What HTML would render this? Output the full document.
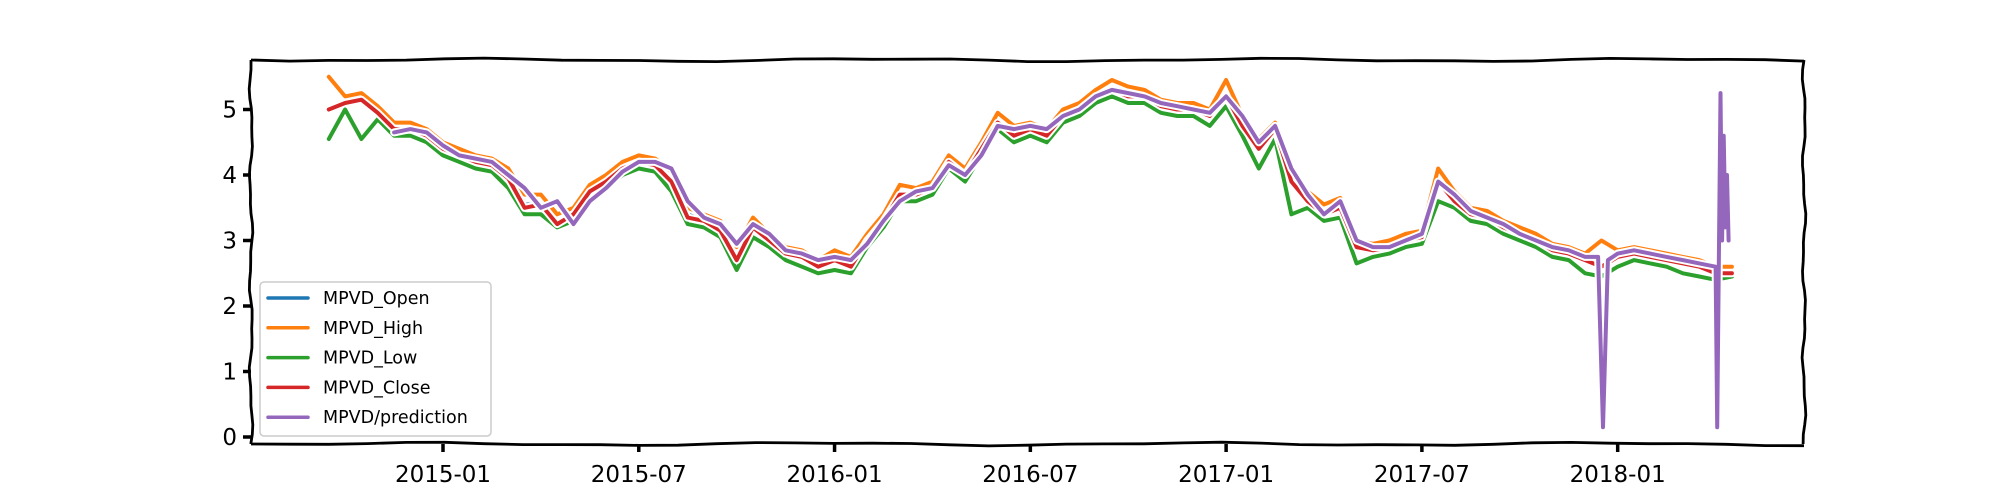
<!DOCTYPE html>
<html><head><meta charset="utf-8"><style>
html,body{margin:0;padding:0;background:#fff;}
svg{display:block;font-family:"DejaVu Sans","Liberation Sans",sans-serif;}
</style></head><body>
<svg id="chart" width="2000" height="500" viewBox="0 0 2000 500" xmlns="http://www.w3.org/2000/svg">
<g id="marks"></g>
<g id="axes"></g>
<g id="legend"></g>
</svg>
<script>
// ---- data ----
const months = [-3.5,-3,-2.5,-2,-1.5,-1,-0.5,0,0.5,1,1.5,2,2.5,3,3.5,4,4.5,5,5.5,6,6.5,7,7.5,8,8.5,9,9.5,10,10.5,11,11.5,12,12.5,13,13.5,14,14.5,15,15.5,16,16.5,17,17.5,18,18.5,19,19.5,20,20.5,21,21.5,22,22.5,23,23.5,24,24.5,25,25.5,26,26.5,27,27.5,28,28.5,29,29.5,30,30.5,31,31.5,32,32.5,33,33.5,34,34.5,35,35.5,36,36.5,37,37.5,38,38.5,39,39.5];
const closeVals = [5.0,5.1,5.15,4.95,4.7,4.7,4.6,4.4,4.3,4.2,4.15,3.95,3.5,3.55,3.25,3.4,3.75,3.9,4.1,4.2,4.15,3.9,3.35,3.3,3.15,2.7,3.2,3.0,2.8,2.75,2.6,2.7,2.6,3.0,3.3,3.7,3.7,3.8,4.2,4.0,4.4,4.8,4.6,4.7,4.6,4.9,5.0,5.2,5.3,5.2,5.2,5.05,5.0,5.0,4.9,5.2,4.75,4.4,4.7,3.9,3.6,3.4,3.5,2.9,2.85,2.9,3.0,3.05,3.9,3.6,3.4,3.35,3.2,3.1,3.0,2.85,2.8,2.7,2.6,2.75,2.8,2.75,2.7,2.65,2.6,2.5,2.5];
const openVals = [5.0,5.1,5.15,4.97,4.72,4.7,4.62,4.42,4.3,4.22,4.15,3.97,3.55,3.55,3.28,3.42,3.75,3.9,4.1,4.2,4.15,3.92,3.4,3.3,3.18,2.75,3.2,3.02,2.82,2.75,2.62,2.7,2.62,3.0,3.3,3.68,3.7,3.8,4.18,4.02,4.4,4.78,4.62,4.7,4.62,4.88,5.0,5.2,5.28,5.2,5.2,5.05,5.0,5.0,4.92,5.18,4.78,4.45,4.68,3.95,3.62,3.42,3.5,2.92,2.85,2.9,3.0,3.05,3.85,3.62,3.42,3.35,3.2,3.1,3.0,2.87,2.8,2.72,2.62,2.75,2.8,2.75,2.7,2.65,2.6,2.52,2.52];
const highVals = [5.5,5.2,5.25,5.05,4.8,4.8,4.7,4.5,4.4,4.3,4.25,4.1,3.7,3.7,3.4,3.5,3.85,4.0,4.2,4.3,4.25,4.05,3.5,3.4,3.3,2.9,3.35,3.1,2.9,2.85,2.7,2.85,2.75,3.1,3.4,3.85,3.8,3.9,4.3,4.1,4.5,4.95,4.75,4.8,4.7,5.0,5.1,5.3,5.45,5.35,5.3,5.15,5.1,5.1,5.0,5.45,4.9,4.55,4.8,4.1,3.75,3.55,3.65,3.0,2.95,3.0,3.1,3.15,4.1,3.75,3.5,3.45,3.3,3.2,3.1,2.95,2.9,2.8,3.0,2.85,2.9,2.85,2.8,2.75,2.7,2.6,2.6];
const lowVals = [4.55,5.0,4.55,4.85,4.6,4.6,4.5,4.3,4.2,4.1,4.05,3.8,3.4,3.4,3.2,3.3,3.65,3.8,4.0,4.1,4.05,3.75,3.25,3.2,3.05,2.55,3.05,2.9,2.7,2.6,2.5,2.55,2.5,2.9,3.2,3.6,3.6,3.7,4.1,3.9,4.3,4.7,4.5,4.6,4.5,4.8,4.9,5.1,5.2,5.1,5.1,4.95,4.9,4.9,4.75,5.05,4.6,4.1,4.55,3.4,3.5,3.3,3.35,2.65,2.75,2.8,2.9,2.95,3.6,3.5,3.3,3.25,3.1,3.0,2.9,2.75,2.7,2.5,2.45,2.6,2.7,2.65,2.6,2.5,2.45,2.4,2.45];
const predMonths = [-1.5,-1,-0.5,0,0.5,1,1.5,2,2.5,3,3.5,4,4.5,5,5.5,6,6.5,7,7.5,8,8.5,9,9.5,10,10.5,11,11.5,12,12.5,13,13.5,14,14.5,15,15.5,16,16.5,17,17.5,18,18.5,19,19.5,20,20.5,21,21.5,22,22.5,23,23.5,24,24.5,25,25.5,26,26.5,27,27.5,28,28.5,29,29.5,30,30.5,31,31.5,32,32.5,33,33.5,34,34.5,35,35.4,35.55,35.7,36,36.5,37,37.5,38,38.5,39.0,39.05,39.15,39.2,39.25,39.3,39.35,39.4];
const predVals = [4.65,4.7,4.65,4.45,4.3,4.25,4.2,4.0,3.8,3.5,3.6,3.25,3.6,3.8,4.05,4.2,4.2,4.1,3.6,3.35,3.25,2.95,3.25,3.1,2.85,2.8,2.7,2.75,2.7,2.95,3.3,3.6,3.75,3.8,4.15,4.0,4.3,4.75,4.7,4.75,4.7,4.9,5.0,5.2,5.3,5.25,5.2,5.1,5.05,5.0,4.95,5.2,4.9,4.5,4.75,4.1,3.7,3.4,3.6,3.0,2.9,2.9,3.0,3.1,3.9,3.7,3.45,3.35,3.25,3.1,3.0,2.9,2.85,2.75,2.75,0.15,2.7,2.8,2.85,2.8,2.75,2.7,2.65,2.6,0.15,5.25,3.0,4.6,3.2,4.0,3.0];
const yTicks = [0,1,2,3,4,5];
const xTickMonths = [0,6,12,18,24,30,36];
const xTickLabels = ["2015-01","2015-07","2016-01","2016-07","2017-01","2017-07","2018-01"];
const legendLabels = ["MPVD_Open","MPVD_High","MPVD_Low","MPVD_Close","MPVD/prediction"];
const colors = ["#1f77b4","#ff7f0e","#2ca02c","#d62728","#9467bd"];

// ---- scales ----
const X0=443, XPM=32.63, Y0=437, YPU=65.5;
const L=251, R=1804, T=60, B=444;
const xs = m => X0 + m*XPM;
const ys = v => Y0 - v*YPU;
const NS="http://www.w3.org/2000/svg";
function mk(tag, attrs, parent){const e=document.createElementNS(NS,tag);for(const k in attrs)e.setAttribute(k,attrs[k]);parent.appendChild(e);return e;}
function pathFrom(xa, ya){return xa.map((m,i)=>(i?'L':'M')+xs(m).toFixed(1)+','+ys(ya[i]).toFixed(1)).join(' ');}

const marks=document.getElementById('marks');
const series=[[months,openVals,'series-open'],[months,highVals,'series-high'],[months,lowVals,'series-low'],[months,closeVals,'series-close'],[predMonths,predVals,'series-prediction']];
series.forEach((s,i)=>{
  const d=pathFrom(s[0],s[1]);
  const halo=mk('path',{d:d,fill:'none',stroke:'#fff','stroke-width':8,'stroke-linejoin':'round','stroke-linecap':'round'},marks);
  
  
  const p=mk('path',{d:d,fill:'none',stroke:colors[i],'stroke-width':4,'stroke-linejoin':'round','stroke-linecap':'round'},marks);
  
  
});

// ---- axes (wobbly spines) ----
const axes=document.getElementById('axes');
function wob(x1,y1,x2,y2,seed){let d='M'+x1+','+y1;const n=40;for(let i=1;i<=n;i++){const t=i/n;const o=1.3*Math.sin(t*25+seed)+0.6*Math.sin(t*61+seed*2);const x=x1+(x2-x1)*t,y=y1+(y2-y1)*t;if(x1===x2)d+=' L'+(x+o).toFixed(1)+','+y.toFixed(1);else d+=' L'+x.toFixed(1)+','+(y+o).toFixed(1);}return d;}
[[L,T,R,T,1,'top-spine'],[L,B,R,B,2,'bottom-spine'],[L,T,L,B,3,'left-spine'],[R,T,R,B,4,'right-spine']].forEach(a=>{
  const p=mk('path',{d:wob(a[0],a[1],a[2],a[3],a[4]),fill:'none',stroke:'#000','stroke-width':2.8},axes);
  
  
});
yTicks.forEach(v=>{
  const tk=mk('line',{x1:L-8,x2:L,y1:ys(v),y2:ys(v),stroke:'#000','stroke-width':3.5},axes);
  
  
  const t=mk('text',{x:L-14,y:ys(v)+8,'text-anchor':'end','font-size':23,fill:'#000'},axes);
  t.textContent=v;
  
  
});
xTickMonths.forEach((m,i)=>{
  const tk=mk('line',{x1:xs(m),x2:xs(m),y1:B,y2:B+8,stroke:'#000','stroke-width':3.5},axes);
  
  
  const t=mk('text',{x:xs(m),y:B+38,'text-anchor':'middle','font-size':23,fill:'#000'},axes);
  t.textContent=xTickLabels[i];
  
  
});

// ---- legend ----
const lg=document.getElementById('legend');
const box=mk('rect',{x:260,y:282,width:231,height:154,rx:4,fill:'#fff','fill-opacity':0.85,stroke:'#ccc','stroke-width':1.5},lg);


legendLabels.forEach((lab,i)=>{
  const y=298+i*29.8;
  const ln=mk('line',{x1:268,x2:308,y1:y,y2:y,stroke:colors[i],'stroke-width':3.5,'stroke-linecap':'round'},lg);
  
  
  const t=mk('text',{x:323,y:y+6,'font-size':17.5,fill:'#000'},lg);
  t.textContent=lab;
  
  
});
</script>
</body></html>
